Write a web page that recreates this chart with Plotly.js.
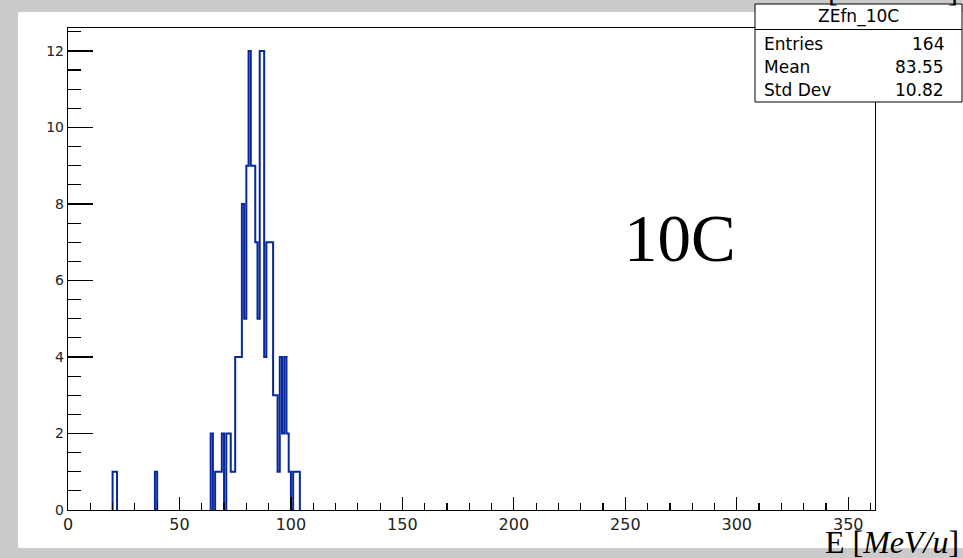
<!DOCTYPE html>
<html><head><meta charset="utf-8">
<script src="https://cdn.plot.ly/plotly-3.0.1.min.js"></script>
<style>html,body{margin:0;padding:0;background:#fff;}#chart{width:963px;height:558px;}</style>
</head><body><div id="chart"></div>
<script>
// ---- data ----
const histName = "ZEfn_10C";
const statLabels = ["Entries", "Mean", "Std Dev"];
const statValues = ["164", "83.55", "10.82"];
const binWidth = 1;
const binLow = [20,21,39,64,66,67,68,69,71,72,73,74,75,76,77,78,79,80,81,82,83,84,85,86,87,88,89,90,91,92,93,94,95,96,97,98,99,101,102,103];
const binCounts = [1,1,1,2,1,1,1,2,2,2,1,1,4,4,4,8,5,9,12,9,9,7,5,12,12,4,7,7,7,3,3,1,4,2,4,2,1,1,1,1];
const xTickVals = [0,50,100,150,200,250,300,350];
const yTickVals = [0,2,4,6,8,10,12];
const xRange = [0, 362];
const yRange = [0, 12.6];
const panelLabel = "10C";
const xLabel = "E [<i>MeV/u</i>]";

// ---- build ROOT-style outline from bins ----
const xs = [], ys = [];
let k = 0;
while (k < binLow.length) {
  const start = k;
  while (k + 1 < binLow.length && binLow[k + 1] === binLow[k] + binWidth) k++;
  xs.push(binLow[start]); ys.push(0);
  for (let j = start; j <= k; j++) { xs.push(binLow[j]); ys.push(binCounts[j]); }
  xs.push(binLow[k] + binWidth); ys.push(0);
  xs.push(null); ys.push(null);
  k++;
}

// layout helpers: pixel -> paper
const L = 68, R = 875, T = 28, B = 510;
const px = v => (v - L) / (R - L);
const py = v => (B - v) / (B - T);

const sans = "DejaVu Sans, Liberation Sans, Arial, sans-serif";
const serif = "Liberation Serif, DejaVu Serif, serif";

const annotations = [
  {xref:'paper', yref:'paper', x:px(680), y:py(238), text:panelLabel, showarrow:false,
   xanchor:'center', yanchor:'middle', font:{family:serif, size:67, color:'black'}},
  {xref:'paper', yref:'paper', x:px(961), y:py(542), text:xLabel, showarrow:false,
   xanchor:'right', yanchor:'middle', font:{family:serif, size:32, color:'black'}},
  {xref:'paper', yref:'paper', x:px(858.5), y:py(16), text:histName, showarrow:false,
   xanchor:'center', yanchor:'middle', font:{family:sans, size:17, color:'black'}},
  {xref:'paper', yref:'paper', x:px(833), y:py(-10), text:'[', showarrow:false,
   xanchor:'center', yanchor:'middle', font:{family:serif, size:30, color:'black'}},
  {xref:'paper', yref:'paper', x:px(953), y:py(-10), text:']', showarrow:false,
   xanchor:'center', yanchor:'middle', font:{family:serif, size:30, color:'black'}}
];
const rowY = [44, 67, 90];
statLabels.forEach((s, i) => {
  annotations.push({xref:'paper', yref:'paper', x:px(762), y:py(rowY[i]), text:s, showarrow:false,
    xanchor:'left', yanchor:'middle', font:{family:sans, size:17, color:'black'}});
  annotations.push({xref:'paper', yref:'paper', x:px(946), y:py(rowY[i]), text:statValues[i], showarrow:false,
    xanchor:'right', yanchor:'middle', font:{family:sans, size:17, color:'black'}});
});

const shapes = [
  {type:'rect', xref:'paper', yref:'paper', x0:px(18), x1:px(963), y0:py(548), y1:py(12),
   fillcolor:'white', line:{width:0}, layer:'below'},
  {type:'rect', xref:'paper', yref:'paper', x0:px(755), x1:px(962), y0:py(102), y1:py(4),
   fillcolor:'white', line:{color:'black', width:1}, layer:'above'},
  {type:'line', xref:'paper', yref:'paper', x0:px(755), x1:px(962), y0:py(29.5), y1:py(29.5),
   line:{color:'black', width:1}, layer:'above'}
];

const trace = {
  type:'scatter', mode:'lines', x:xs, y:ys,
  line:{shape:'hv', color:'#06289a', width:2},
  connectgaps:false, hoverinfo:'skip', showlegend:false
};

const layout = {
  width:963, height:558,
  margin:{l:L, r:963 - R, t:T, b:558 - B, pad:0},
  paper_bgcolor:'#cbcbcb', plot_bgcolor:'white',
  showlegend:false,
  xaxis:{range:xRange, tickmode:'array', tickvals:xTickVals, ticktext:xTickVals.map(String),
    ticks:'inside', ticklen:13, tickwidth:1.2, tickcolor:'black',
    showline:true, mirror:true, linecolor:'black', linewidth:1.2,
    showgrid:false, zeroline:false, fixedrange:true,
    tickfont:{family:sans, size:16, color:'#222'},
    minor:{dtick:10, tick0:0, ticks:'inside', ticklen:7, tickwidth:1.2, tickcolor:'black', showgrid:false}},
  yaxis:{range:yRange, tickmode:'array', tickvals:yTickVals, ticktext:yTickVals.map(String),
    ticks:'inside', ticklen:25, tickwidth:1.2, tickcolor:'black',
    showline:true, mirror:true, linecolor:'black', linewidth:1.2,
    showgrid:false, zeroline:false, fixedrange:true,
    tickfont:{family:sans, size:14, color:'#222'},
    minor:{dtick:0.5, tick0:0, ticks:'inside', ticklen:13, tickwidth:1.2, tickcolor:'black', showgrid:false}},
  annotations:annotations,
  shapes:shapes
};

Plotly.newPlot('chart', [trace], layout, {staticPlot:true, displayModeBar:false});
</script>
</body></html>
